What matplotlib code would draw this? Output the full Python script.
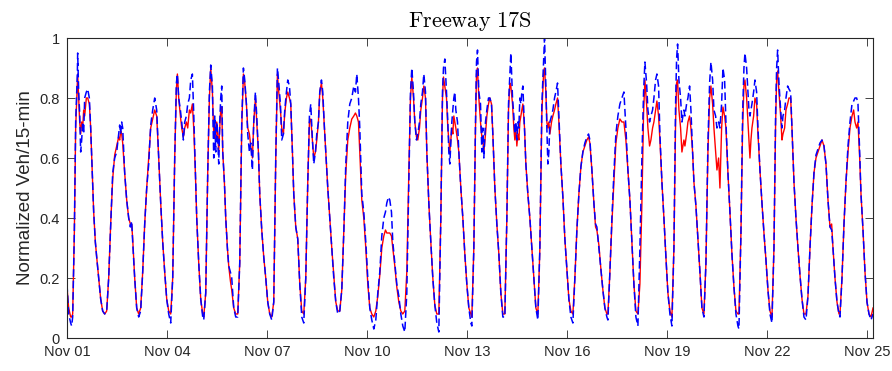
import matplotlib
matplotlib.use("Agg")
import matplotlib.pyplot as plt
import matplotlib.dates as mdates
import pandas as pd

# time axis: days since Nov 01 00:00 (both series share it)
day_1 = [0.00, 0.05, 0.11, 0.14, 0.17, 0.22, 0.26, 0.31, 0.32, 0.35, 0.38, 0.41, 0.44, 0.47,
         0.50, 0.53, 0.58, 0.62, 0.67, 0.71, 0.76, 0.80, 0.85, 0.89, 0.95, 1.01, 1.07, 1.13]
red_1 = [0.17, 0.10, 0.07, 0.07, 0.08, 0.35, 0.70, 0.85, 0.88, 0.80, 0.72, 0.68, 0.72, 0.70,
         0.76, 0.74, 0.80, 0.80, 0.78, 0.70, 0.55, 0.42, 0.32, 0.27, 0.20, 0.13, 0.09, 0.08]
blue_1 = [0.18, 0.08, 0.05, 0.04, 0.07, 0.35, 0.72, 0.88, 0.95, 0.82, 0.75, 0.62, 0.66, 0.72,
          0.68, 0.80, 0.82, 0.83, 0.80, 0.70, 0.55, 0.42, 0.32, 0.27, 0.20, 0.13, 0.09, 0.08]

day_2 = [1.19, 1.25, 1.31, 1.37, 1.43, 1.49, 1.55, 1.58, 1.61, 1.64, 1.67, 1.73, 1.79, 1.85,
         1.90, 1.94, 1.97, 2.03, 2.09, 2.15]
red_2 = [0.09, 0.20, 0.38, 0.53, 0.61, 0.64, 0.67, 0.66, 0.69, 0.68, 0.65, 0.55, 0.46, 0.40,
         0.38, 0.38, 0.33, 0.20, 0.10, 0.08]
blue_2 = [0.09, 0.20, 0.38, 0.55, 0.60, 0.62, 0.68, 0.71, 0.68, 0.72, 0.70, 0.55, 0.46, 0.40,
          0.37, 0.39, 0.32, 0.20, 0.10, 0.07]

day_3 = [2.21, 2.27, 2.33, 2.39, 2.45, 2.51, 2.57, 2.63, 2.66, 2.69, 2.75, 2.81, 2.87, 2.93,
         2.99, 3.05, 3.11]
red_3 = [0.10, 0.22, 0.38, 0.50, 0.60, 0.70, 0.73, 0.76, 0.75, 0.74, 0.60, 0.45, 0.32, 0.22,
         0.13, 0.09, 0.08]
blue_3 = [0.09, 0.22, 0.38, 0.50, 0.58, 0.71, 0.76, 0.80, 0.78, 0.76, 0.60, 0.45, 0.32, 0.22,
          0.13, 0.08, 0.05]

day_4 = [3.17, 3.23, 3.28, 3.31, 3.35, 3.40, 3.44, 3.49, 3.53, 3.58, 3.62, 3.67, 3.71, 3.76,
         3.80, 3.85, 3.89, 3.95, 4.01, 4.07, 4.10]
red_4 = [0.20, 0.60, 0.83, 0.88, 0.80, 0.74, 0.70, 0.67, 0.70, 0.72, 0.70, 0.76, 0.75, 0.78,
         0.70, 0.55, 0.40, 0.25, 0.13, 0.08, 0.07]
blue_4 = [0.20, 0.60, 0.85, 0.88, 0.80, 0.76, 0.72, 0.66, 0.72, 0.74, 0.78, 0.80, 0.86, 0.88,
          0.75, 0.55, 0.40, 0.25, 0.13, 0.07, 0.06]

day_5 = [4.16, 4.22, 4.27, 4.31, 4.36, 4.40, 4.43, 4.46, 4.49, 4.52, 4.55, 4.58, 4.61, 4.64,
         4.67, 4.72, 4.76, 4.81, 4.85, 4.90, 4.94, 5.00, 5.06, 5.12]
red_5 = [0.15, 0.55, 0.80, 0.90, 0.82, 0.68, 0.72, 0.66, 0.72, 0.68, 0.62, 0.70, 0.76, 0.77,
         0.62, 0.52, 0.40, 0.30, 0.24, 0.19, 0.16, 0.10, 0.08, 0.08]
blue_5 = [0.15, 0.55, 0.82, 0.91, 0.84, 0.60, 0.74, 0.62, 0.72, 0.66, 0.58, 0.72, 0.80, 0.84,
          0.62, 0.52, 0.40, 0.30, 0.24, 0.22, 0.20, 0.10, 0.07, 0.07]

day_6 = [5.18, 5.24, 5.29, 5.33, 5.38, 5.42, 5.47, 5.51, 5.56, 5.60, 5.65, 5.69, 5.74, 5.78,
         5.84, 5.90, 5.96, 6.02, 6.08, 6.14]
red_6 = [0.25, 0.70, 0.88, 0.85, 0.78, 0.70, 0.68, 0.64, 0.60, 0.72, 0.80, 0.72, 0.62, 0.48,
         0.36, 0.27, 0.20, 0.12, 0.08, 0.07]
blue_6 = [0.25, 0.72, 0.90, 0.86, 0.78, 0.68, 0.62, 0.65, 0.56, 0.72, 0.82, 0.74, 0.62, 0.48,
          0.36, 0.27, 0.20, 0.12, 0.08, 0.06]

day_7 = [6.20, 6.26, 6.31, 6.35, 6.40, 6.44, 6.49, 6.53, 6.58, 6.62, 6.67, 6.71, 6.76, 6.80,
         6.86, 6.92, 6.98, 7.04, 7.10]
red_7 = [0.12, 0.60, 0.88, 0.82, 0.76, 0.70, 0.68, 0.75, 0.80, 0.82, 0.80, 0.78, 0.62, 0.48,
         0.37, 0.33, 0.18, 0.09, 0.08]
blue_7 = [0.12, 0.60, 0.90, 0.85, 0.78, 0.66, 0.68, 0.76, 0.82, 0.86, 0.84, 0.78, 0.62, 0.48,
          0.37, 0.33, 0.18, 0.07, 0.05]

day_8 = [7.16, 7.22, 7.27, 7.31, 7.36, 7.40, 7.45, 7.49, 7.54, 7.58, 7.63, 7.67, 7.72, 7.76,
         7.82, 7.88, 7.94, 8.00, 8.06, 8.12, 8.18]
red_8 = [0.20, 0.52, 0.72, 0.73, 0.66, 0.60, 0.62, 0.66, 0.72, 0.82, 0.85, 0.80, 0.70, 0.62,
         0.50, 0.40, 0.30, 0.21, 0.12, 0.09, 0.09]
blue_8 = [0.20, 0.52, 0.74, 0.78, 0.66, 0.58, 0.62, 0.68, 0.72, 0.82, 0.86, 0.82, 0.70, 0.62,
          0.50, 0.40, 0.30, 0.20, 0.12, 0.08, 0.09]

day_9 = [8.24, 8.30, 8.36, 8.42, 8.48, 8.54, 8.60, 8.65, 8.69, 8.74, 8.78, 8.84, 8.90, 8.96,
         9.02, 9.08, 9.14, 9.20]
red_9 = [0.16, 0.35, 0.55, 0.66, 0.70, 0.73, 0.74, 0.75, 0.74, 0.72, 0.62, 0.46, 0.40, 0.30,
         0.18, 0.10, 0.08, 0.07]
blue_9 = [0.16, 0.35, 0.58, 0.72, 0.78, 0.80, 0.84, 0.82, 0.88, 0.80, 0.70, 0.48, 0.42, 0.32,
          0.20, 0.10, 0.06, 0.03]

day_10 = [9.26, 9.32, 9.38, 9.44, 9.50, 9.55, 9.59, 9.64, 9.68, 9.73, 9.77, 9.83, 9.89, 9.95,
          10.01, 10.07, 10.13]
red_10 = [0.09, 0.14, 0.21, 0.30, 0.34, 0.36, 0.35, 0.35, 0.35, 0.34, 0.30, 0.24, 0.17, 0.12,
          0.09, 0.08, 0.09]
blue_10 = [0.06, 0.15, 0.22, 0.34, 0.40, 0.42, 0.45, 0.47, 0.46, 0.42, 0.32, 0.25, 0.18, 0.14,
           0.08, 0.04, 0.02]

day_11 = [10.19, 10.25, 10.30, 10.34, 10.39, 10.43, 10.48, 10.52, 10.57, 10.61, 10.66, 10.70,
          10.75, 10.79, 10.85, 10.91, 10.97, 11.03, 11.09, 11.15]
red_11 = [0.22, 0.55, 0.80, 0.87, 0.80, 0.72, 0.67, 0.66, 0.70, 0.76, 0.80, 0.84, 0.80, 0.62,
          0.45, 0.32, 0.20, 0.11, 0.08, 0.08]
blue_11 = [0.15, 0.52, 0.82, 0.90, 0.82, 0.72, 0.66, 0.68, 0.72, 0.78, 0.82, 0.88, 0.82, 0.62,
           0.45, 0.32, 0.20, 0.11, 0.05, 0.02]

day_12 = [11.21, 11.26, 11.29, 11.33, 11.38, 11.42, 11.45, 11.48, 11.51, 11.54, 11.57, 11.60,
          11.63, 11.66, 11.71, 11.75, 11.81, 11.87, 11.93, 11.99, 12.05, 12.11, 12.14]
red_12 = [0.40, 0.80, 0.87, 0.84, 0.80, 0.70, 0.66, 0.62, 0.66, 0.70, 0.68, 0.74, 0.72, 0.70,
          0.66, 0.62, 0.50, 0.40, 0.28, 0.18, 0.10, 0.08, 0.07]
blue_12 = [0.40, 0.82, 0.90, 0.93, 0.82, 0.72, 0.62, 0.58, 0.65, 0.72, 0.76, 0.80, 0.82, 0.76,
           0.72, 0.62, 0.50, 0.40, 0.28, 0.18, 0.10, 0.05, 0.04]

day_13 = [12.20, 12.25, 12.28, 12.31, 12.35, 12.40, 12.44, 12.47, 12.50, 12.55, 12.59, 12.64,
          12.68, 12.73, 12.77, 12.83, 12.89, 12.95, 13.01, 13.07, 13.13]
red_13 = [0.30, 0.70, 0.88, 0.90, 0.80, 0.72, 0.67, 0.66, 0.62, 0.68, 0.74, 0.78, 0.80, 0.78,
          0.68, 0.50, 0.38, 0.28, 0.15, 0.08, 0.08]
blue_13 = [0.30, 0.72, 0.92, 0.96, 0.82, 0.78, 0.62, 0.70, 0.60, 0.72, 0.76, 0.80, 0.80, 0.78,
           0.68, 0.50, 0.38, 0.28, 0.15, 0.07, 0.07]

day_14 = [13.19, 13.24, 13.28, 13.31, 13.36, 13.40, 13.43, 13.46, 13.49, 13.52, 13.55, 13.58,
          13.61, 13.64, 13.67, 13.72, 13.76, 13.82, 13.88, 13.94, 14.00, 14.06, 14.12]
red_14 = [0.40, 0.76, 0.85, 0.84, 0.78, 0.70, 0.66, 0.70, 0.64, 0.68, 0.66, 0.72, 0.74, 0.76,
          0.78, 0.70, 0.58, 0.48, 0.40, 0.30, 0.20, 0.10, 0.08]
blue_14 = [0.40, 0.78, 0.88, 0.95, 0.80, 0.74, 0.68, 0.72, 0.66, 0.72, 0.70, 0.80, 0.78, 0.82,
           0.84, 0.70, 0.58, 0.48, 0.40, 0.30, 0.20, 0.10, 0.06]

day_15 = [14.18, 14.24, 14.29, 14.32, 14.36, 14.39, 14.42, 14.45, 14.48, 14.53, 14.57, 14.62,
          14.66, 14.71, 14.75, 14.81, 14.87, 14.93, 14.99, 15.05, 15.11, 15.17]
red_15 = [0.30, 0.75, 0.88, 0.90, 0.82, 0.72, 0.70, 0.72, 0.68, 0.72, 0.74, 0.76, 0.78, 0.80,
          0.72, 0.58, 0.47, 0.33, 0.23, 0.13, 0.09, 0.08]
blue_15 = [0.30, 0.78, 0.92, 1.00, 0.84, 0.70, 0.58, 0.62, 0.72, 0.74, 0.76, 0.80, 0.82, 0.85,
           0.74, 0.58, 0.47, 0.33, 0.23, 0.13, 0.07, 0.05]

day_16 = [15.23, 15.29, 15.35, 15.41, 15.47, 15.53, 15.59, 15.64, 15.68, 15.74, 15.80, 15.85,
          15.89, 15.95, 16.01, 16.07, 16.13, 16.19, 16.22]
red_16 = [0.20, 0.36, 0.48, 0.57, 0.62, 0.64, 0.66, 0.67, 0.65, 0.56, 0.45, 0.37, 0.36, 0.31,
          0.23, 0.16, 0.10, 0.08, 0.08]
blue_16 = [0.20, 0.36, 0.48, 0.57, 0.62, 0.65, 0.67, 0.68, 0.66, 0.56, 0.45, 0.38, 0.37, 0.30,
           0.23, 0.16, 0.10, 0.07, 0.06]

day_17 = [16.28, 16.34, 16.40, 16.46, 16.52, 16.58, 16.64, 16.70, 16.76, 16.82, 16.88, 16.94,
          17.00, 17.06, 17.12]
red_17 = [0.22, 0.38, 0.52, 0.65, 0.70, 0.73, 0.72, 0.72, 0.66, 0.56, 0.46, 0.32, 0.18, 0.09,
          0.08]
blue_17 = [0.22, 0.40, 0.55, 0.68, 0.74, 0.78, 0.80, 0.82, 0.70, 0.56, 0.46, 0.32, 0.18, 0.07,
           0.04]

day_18 = [17.18, 17.24, 17.29, 17.33, 17.38, 17.42, 17.47, 17.51, 17.56, 17.60, 17.65, 17.69,
          17.74, 17.78, 17.84, 17.90, 17.96, 18.02, 18.08, 18.14]
red_18 = [0.18, 0.45, 0.75, 0.86, 0.78, 0.70, 0.64, 0.66, 0.70, 0.72, 0.76, 0.79, 0.74, 0.66,
          0.52, 0.40, 0.27, 0.15, 0.09, 0.07]
blue_18 = [0.30, 0.60, 0.82, 0.92, 0.85, 0.76, 0.72, 0.74, 0.76, 0.80, 0.86, 0.88, 0.84, 0.68,
           0.52, 0.40, 0.27, 0.15, 0.08, 0.04]

day_19 = [18.20, 18.25, 18.28, 18.31, 18.35, 18.40, 18.44, 18.47, 18.50, 18.53, 18.58, 18.62,
          18.67, 18.71, 18.76, 18.80, 18.86, 18.92, 18.98, 19.04, 19.10]
red_19 = [0.30, 0.72, 0.85, 0.86, 0.76, 0.70, 0.62, 0.64, 0.66, 0.64, 0.68, 0.72, 0.74, 0.70,
          0.62, 0.52, 0.44, 0.33, 0.22, 0.10, 0.08]
blue_19 = [0.30, 0.78, 0.93, 0.98, 0.86, 0.80, 0.72, 0.74, 0.76, 0.74, 0.78, 0.80, 0.84, 0.76,
           0.62, 0.52, 0.44, 0.33, 0.22, 0.10, 0.07]

day_20 = [19.16, 19.22, 19.27, 19.31, 19.36, 19.40, 19.45, 19.49, 19.54, 19.58, 19.63, 19.67,
          19.72, 19.76, 19.82, 19.88, 19.94, 20.00, 20.06, 20.12, 20.15]
red_20 = [0.25, 0.62, 0.80, 0.84, 0.78, 0.70, 0.62, 0.56, 0.60, 0.50, 0.70, 0.77, 0.74, 0.70,
          0.55, 0.42, 0.28, 0.17, 0.09, 0.08, 0.08]
blue_20 = [0.25, 0.65, 0.85, 0.92, 0.86, 0.76, 0.74, 0.70, 0.72, 0.70, 0.78, 0.90, 0.86, 0.72,
           0.55, 0.42, 0.28, 0.17, 0.08, 0.04, 0.03]

day_21 = [20.21, 20.26, 20.30, 20.33, 20.38, 20.42, 20.45, 20.48, 20.51, 20.54, 20.59, 20.63,
          20.68, 20.72, 20.78, 20.84, 20.90, 20.96, 21.02, 21.08, 21.14]
red_21 = [0.35, 0.70, 0.84, 0.86, 0.80, 0.72, 0.66, 0.60, 0.66, 0.70, 0.74, 0.80, 0.78, 0.68,
          0.56, 0.45, 0.35, 0.26, 0.16, 0.09, 0.07]
blue_21 = [0.35, 0.75, 0.90, 0.95, 0.90, 0.82, 0.76, 0.74, 0.76, 0.78, 0.82, 0.86, 0.82, 0.70,
           0.56, 0.45, 0.35, 0.26, 0.16, 0.08, 0.05]

day_22 = [21.20, 21.25, 21.28, 21.31, 21.35, 21.40, 21.44, 21.47, 21.52, 21.56, 21.61, 21.65,
          21.70, 21.74, 21.80, 21.86, 21.92, 21.98, 22.04, 22.10, 22.16]
red_22 = [0.30, 0.72, 0.86, 0.89, 0.82, 0.74, 0.66, 0.68, 0.70, 0.76, 0.78, 0.80, 0.80, 0.70,
          0.52, 0.40, 0.30, 0.21, 0.13, 0.08, 0.08]
blue_22 = [0.30, 0.75, 0.90, 0.96, 0.85, 0.76, 0.70, 0.74, 0.76, 0.80, 0.84, 0.83, 0.82, 0.70,
           0.52, 0.40, 0.30, 0.21, 0.13, 0.07, 0.06]

day_23 = [22.22, 22.28, 22.34, 22.40, 22.46, 22.52, 22.58, 22.64, 22.70, 22.76, 22.82, 22.88,
          22.93, 22.97, 23.03, 23.09, 23.15, 23.18]
red_23 = [0.14, 0.30, 0.44, 0.55, 0.60, 0.62, 0.64, 0.66, 0.64, 0.58, 0.46, 0.37, 0.38, 0.30,
          0.20, 0.12, 0.08, 0.08]
blue_23 = [0.14, 0.30, 0.44, 0.55, 0.61, 0.63, 0.65, 0.66, 0.64, 0.58, 0.46, 0.37, 0.36, 0.30,
           0.20, 0.12, 0.08, 0.07]

day_24 = [23.24, 23.30, 23.36, 23.42, 23.48, 23.54, 23.59, 23.63, 23.68, 23.72, 23.77, 23.81,
          23.87, 23.93, 23.99, 24.05, 24.11, 24.17]
red_24 = [0.20, 0.38, 0.52, 0.62, 0.70, 0.74, 0.76, 0.72, 0.70, 0.72, 0.60, 0.48, 0.36, 0.22,
          0.12, 0.08, 0.07, 0.10]
blue_24 = [0.20, 0.38, 0.52, 0.64, 0.72, 0.78, 0.79, 0.80, 0.80, 0.78, 0.62, 0.48, 0.36, 0.22,
           0.12, 0.08, 0.06, 0.08]

tick_days = [0, 3, 6, 9, 12, 15, 18, 21, 24]
y_ticks = [0, 0.2, 0.4, 0.6, 0.8, 1]
y_tick_labels = ["0", "0.2", "0.4", "0.6", "0.8", "1"]

days = (day_1 + day_2 + day_3 + day_4 + day_5 + day_6 + day_7 + day_8 + day_9 + day_10 + day_11
        + day_12 + day_13 + day_14 + day_15 + day_16 + day_17 + day_18 + day_19 + day_20
        + day_21 + day_22 + day_23 + day_24)
red = (red_1 + red_2 + red_3 + red_4 + red_5 + red_6 + red_7 + red_8 + red_9 + red_10 + red_11
       + red_12 + red_13 + red_14 + red_15 + red_16 + red_17 + red_18 + red_19 + red_20
       + red_21 + red_22 + red_23 + red_24)
blue = (blue_1 + blue_2 + blue_3 + blue_4 + blue_5 + blue_6 + blue_7 + blue_8 + blue_9 + blue_10
        + blue_11 + blue_12 + blue_13 + blue_14 + blue_15 + blue_16 + blue_17 + blue_18
        + blue_19 + blue_20 + blue_21 + blue_22 + blue_23 + blue_24)

start = pd.Timestamp("2014-11-01")
t = start + pd.to_timedelta(days, unit="D")
ticks = start + pd.to_timedelta(tick_days, unit="D")

plt.rcParams["font.family"] = ["Liberation Sans", "DejaVu Sans"]
plt.rcParams["mathtext.fontset"] = "cm"

fig = plt.figure(figsize=(8.92, 3.71), dpi=100)
ax = fig.add_axes([67 / 892, 33 / 371, 806 / 892, 300 / 371])

ax.plot(t, red, color="red", lw=1.0)
ax.plot(t, blue, color="blue", lw=1.1, ls="--", dashes=(5, 2.5))

ax.set_xlim(start, t[-1])
ax.set_ylim(0, 1)
ax.set_xticks(ticks)
ax.xaxis.set_major_formatter(mdates.DateFormatter("%b %d"))
ax.set_yticks(y_ticks)
ax.set_yticklabels(y_tick_labels)

edge = (0.15, 0.15, 0.15)
for s in ax.spines.values():
    s.set_color(edge)
    s.set_linewidth(0.8)
ax.tick_params(direction="in", length=5.5, width=0.6, color=edge, labelcolor=edge,
               labelsize=10.5, top=True, right=True, pad=5)

ax.set_ylabel("Normalized Veh/15-min", fontsize=13.5, color=edge, labelpad=4)
ax.set_title(r"$\mathrm{Freeway\ 17S}$", fontsize=16, pad=8)

fig.savefig("out.png", dpi=100)
